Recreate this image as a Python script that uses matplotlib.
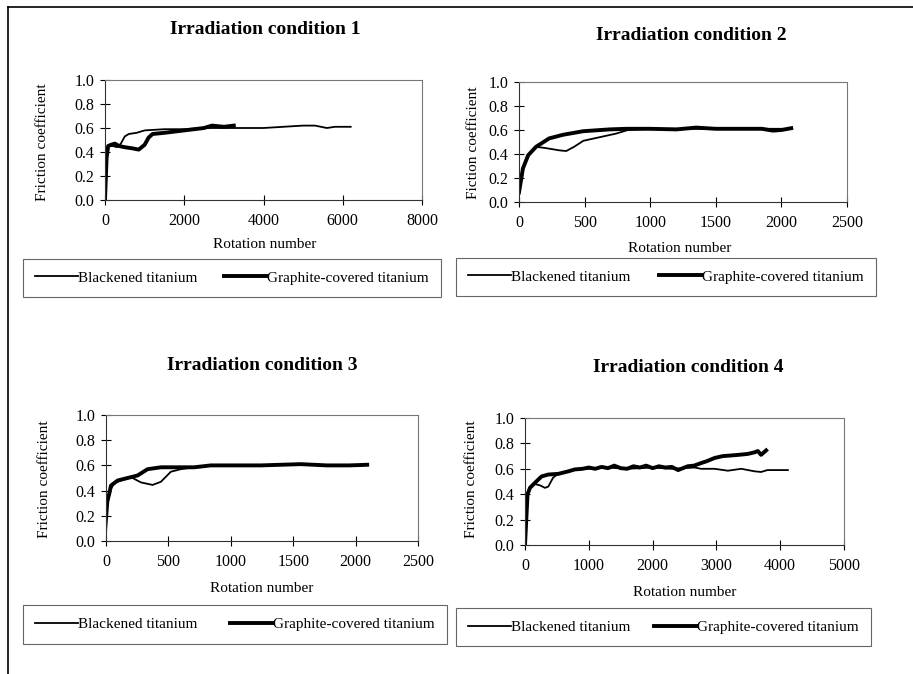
import matplotlib
matplotlib.use('Agg')
from matplotlib import pyplot as plt
from matplotlib.lines import Line2D

plt.rcParams['font.family'] = ['Liberation Serif', 'DejaVu Serif']

# condition 1
c1_black_x = [0, 30, 60, 100, 200, 300, 400, 500, 600, 800, 1000, 1500, 2000, 2500, 3000,
              3500, 4000, 4500, 5000, 5300, 5600, 5800, 6000, 6200]
c1_black_y = [0.0, 0.30, 0.44, 0.45, 0.45, 0.44, 0.47, 0.53, 0.55, 0.56, 0.58, 0.59, 0.59,
              0.60, 0.60, 0.60, 0.60, 0.61, 0.62, 0.62, 0.60, 0.61, 0.61, 0.61]
c1_graph_x = [0, 40, 80, 150, 250, 350, 500, 700, 850, 1000, 1100, 1200, 1500, 2000, 2500,
              2700, 3000, 3250]
c1_graph_y = [0.0, 0.35, 0.45, 0.46, 0.47, 0.45, 0.44, 0.43, 0.42, 0.46, 0.52, 0.55, 0.56,
              0.58, 0.60, 0.62, 0.61, 0.62]

# condition 2
c2_black_x = [0, 30, 70, 130, 200, 310, 360, 420, 490, 615, 740, 830, 1000, 1200, 1400,
              1600, 1800, 2000]
c2_black_y = [0.08, 0.28, 0.39, 0.46, 0.45, 0.43, 0.425, 0.46, 0.51, 0.54, 0.57, 0.60, 0.61,
              0.61, 0.61, 0.61, 0.61, 0.61]
c2_graph_x = [0, 30, 70, 130, 230, 335, 490, 690, 820, 1000, 1200, 1350, 1500, 1700, 1850,
              1935, 2000, 2075]
c2_graph_y = [0.08, 0.28, 0.39, 0.46, 0.53, 0.56, 0.59, 0.605, 0.61, 0.61, 0.605, 0.62, 0.61,
              0.61, 0.61, 0.595, 0.60, 0.615]

# condition 3
c3_black_x = [0, 25, 67, 173, 213, 280, 373, 440, 520, 600, 700, 840, 1000, 1240, 1500,
              1800, 2050]
c3_black_y = [0.07, 0.39, 0.46, 0.50, 0.50, 0.465, 0.445, 0.47, 0.55, 0.57, 0.585, 0.60, 0.60,
              0.60, 0.605, 0.60, 0.60]
c3_graph_x = [0, 25, 40, 93, 173, 253, 333, 440, 560, 707, 840, 1000, 1240, 1400, 1560, 1770,
              1950, 2093]
c3_graph_y = [0.28, 0.37, 0.44, 0.48, 0.50, 0.52, 0.57, 0.585, 0.585, 0.585, 0.60, 0.60, 0.60,
              0.605, 0.61, 0.60, 0.60, 0.605]

# condition 4
c4_black_x = [0, 40, 78, 156, 234, 313, 365, 440, 520, 680, 780, 1000, 1300, 1600, 2000, 2300,
              2660, 2760, 2970, 3180, 3390, 3600, 3700, 3800, 4120]
c4_black_y = [0.0, 0.40, 0.46, 0.48, 0.47, 0.45, 0.46, 0.53, 0.56, 0.58, 0.595, 0.60, 0.61,
              0.60, 0.61, 0.60, 0.61, 0.60, 0.60, 0.585, 0.60, 0.58, 0.575, 0.59, 0.59]
c4_graph_x = [0, 40, 78, 156, 260, 365, 520, 680, 780, 900, 1000, 1100, 1200, 1300, 1400, 1500,
              1600, 1700, 1800, 1900, 2000, 2100, 2200, 2300, 2400, 2550, 2650, 2760, 2850,
              2970, 3100, 3230, 3350, 3490, 3600, 3650, 3700, 3780]
c4_graph_y = [0.0, 0.40, 0.45, 0.49, 0.54, 0.555, 0.56, 0.58, 0.595, 0.60, 0.61, 0.60, 0.615,
              0.605, 0.625, 0.605, 0.60, 0.62, 0.61, 0.625, 0.605, 0.62, 0.61, 0.615, 0.59,
              0.62, 0.625, 0.645, 0.66, 0.685, 0.70, 0.705, 0.71, 0.717, 0.73, 0.74, 0.71, 0.745]

x_ticks = [[0, 2000, 4000, 6000, 8000], [0, 500, 1000, 1500, 2000, 2500],
           [0, 500, 1000, 1500, 2000, 2500], [0, 1000, 2000, 3000, 4000, 5000]]
y_ticks = [0.0, 0.2, 0.4, 0.6, 0.8, 1.0]
titles = ['Irradiation condition 1', 'Irradiation condition 2',
          'Irradiation condition 3', 'Irradiation condition 4']
y_labels = ['Friction coefficient', 'Fiction coefficient',
            'Friction coefficient', 'Friction coefficient']
series = [(c1_black_x, c1_black_y, c1_graph_x, c1_graph_y),
          (c2_black_x, c2_black_y, c2_graph_x, c2_graph_y),
          (c3_black_x, c3_black_y, c3_graph_x, c3_graph_y),
          (c4_black_x, c4_black_y, c4_graph_x, c4_graph_y)]

W, H = 913, 674
fig = plt.figure(figsize=(W / 100, H / 100), dpi=100)

# pixel layout: axes box, title centre, xlabel centre, ylabel centre, legend box
boxes = [(105, 422, 80, 200), (519, 847, 82, 202), (106, 418, 415, 541), (525, 844, 418, 545)]
title_pos = [(265, 30), (691, 35), (262, 365), (688, 367)]
xlab_pos = [(265, 245), (680, 248), (262, 588), (685, 593)]
ylab_pos = [(42, 142), (473, 143), (45, 479), (471, 479)]
leg_box = [(23, 441, 257, 299), (456, 876, 257, 297), (23, 447, 604, 645), (456, 871, 608, 646)]


def fx(px):
    return px / W


def fy(py):
    return 1 - py / H


for i in range(4):
    l, r, t, b = boxes[i]
    ax = fig.add_axes((fx(l), fy(b), (r - l) / W, (b - t) / H))
    bx, by, gx, gy = series[i]
    ax.plot(bx, by, color='black', lw=1.3, label='Blackened titanium')
    ax.plot(gx, gy, color='black', lw=2.8, label='Graphite-covered titanium')
    ax.set_xlim(x_ticks[i][0], x_ticks[i][-1])
    ax.set_ylim(0, 1)
    ax.set_xticks(x_ticks[i])
    ax.set_yticks(y_ticks)
    ax.set_yticklabels([f'{v:.1f}' for v in y_ticks])
    ax.tick_params(direction='inout', length=7, width=0.8, labelsize=11.5)
    ax.tick_params(axis='x', pad=6)
    ax.tick_params(axis='y', pad=4)
    for s in ax.spines.values():
        s.set_color('#777777')
        s.set_linestyle((0, (2, 1)))
        s.set_linewidth(0.8)
    ax.spines['left'].set_color('#333333')
    ax.spines['bottom'].set_color('#333333')

    fig.text(fx(title_pos[i][0]), fy(title_pos[i][1]), titles[i], ha='center', va='center',
             fontsize=14, fontweight='bold')
    fig.text(fx(xlab_pos[i][0]), fy(xlab_pos[i][1]), 'Rotation number', ha='center',
             va='center', fontsize=11)
    fig.text(fx(ylab_pos[i][0]), fy(ylab_pos[i][1]), y_labels[i], ha='center', va='center',
             rotation=90, fontsize=11)

    ll, lr, lt, lb = leg_box[i]
    leg = ax.legend(loc='center', bbox_to_anchor=(fx(ll), fy(lb), (lr - ll) / W, (lb - lt) / H),
                    bbox_transform=fig.transFigure, ncol=2, mode='expand', fontsize=11,
                    handlelength=2.8, handletextpad=0.0, fancybox=False, framealpha=1,
                    borderpad=0.8, borderaxespad=0)
    leg.get_frame().set_edgecolor('#666666')
    leg.get_frame().set_linewidth(0.8)

# outer frame, top and left
fig.add_artist(Line2D([fx(8), 1], [fy(7), fy(7)], color='black', lw=1.2))
fig.add_artist(Line2D([fx(8), fx(8)], [fy(7), 0], color='black', lw=1.2))

fig.savefig('out.png', dpi=100)
